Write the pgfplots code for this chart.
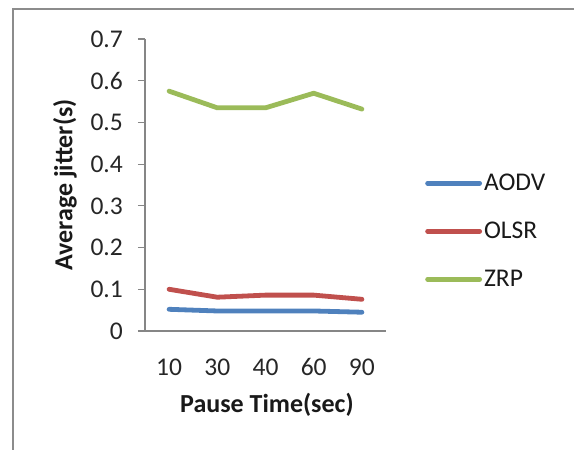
\documentclass[border=0pt]{standalone}
\usepackage{fontspec}
\setmainfont{Carlito}
\usepackage{pgfplots}
\pgfplotsset{compat=1.18}
\definecolor{cA}{HTML}{4F81BD}
\definecolor{cB}{HTML}{C0504D}
\definecolor{cC}{HTML}{9BBB59}
\definecolor{axgray}{HTML}{868686}
\definecolor{bordergray}{HTML}{8C8C8C}
\begin{document}
\begin{tikzpicture}[x=1pt,y=1pt]
\path[use as bounding box] (0,0) rectangle (574,450);
\draw[bordergray, line width=2.5pt] (13,-5) -- (13,441) -- (580,441);
\begin{axis}[
  at={(145pt,119pt)}, anchor=south west,
  scale only axis, width=241pt, height=292pt,
  xmin=-0.5, xmax=4.5, ymin=0, ymax=0.7,
  axis x line=bottom, axis y line=left,
  axis line style={axgray, line width=1.2pt, -},
  every outer x axis line/.append style={-},
  every outer y axis line/.append style={-},
  xtick=data, xticklabels={10,30,40,60,90},
  ytick={0,0.1,0.2,0.3,0.4,0.5,0.6,0.7},
  yticklabels={0,0.1,0.2,0.3,0.4,0.5,0.6,0.7},
  major tick length=7pt, tick align=outside,
  x tick style={draw=none},
  y tick style={axgray, line width=1.2pt},
  tick label style={font=\fontsize{25.5}{30}\selectfont, text=black!85},
  /pgf/number format/assume math mode=true,
  yticklabel style={anchor=east, inner sep=0pt, xshift=-15pt},
  xticklabel style={anchor=center, yshift=-29pt, inner sep=0pt},
  xlabel={\textbf{Pause Time(sec)}},
  ylabel={\textbf{Average jitter(s)}},
  label style={font=\fontsize{26}{30}\selectfont, text=black!90},
  xlabel style={at={(axis description cs:0.506,-0.253)}, anchor=center},
  ylabel style={at={(axis description cs:-0.332,0.5)}, anchor=center},
  legend style={at={(axis description cs:1.162,0.342)}, anchor=west, draw=none, fill=none,
    inner sep=0pt, row sep=26pt, font=\fontsize{25.5}{30}\selectfont,
    nodes={inner sep=2pt, text=black!90}},
  legend cell align=left,
  legend image code/.code={\draw[#1, line cap=round] (0pt,0pt) -- (52pt,0pt);},
  every axis plot/.append style={line width=4.8pt, line cap=round, line join=round},
]
\addplot[cA] coordinates {(0,0.052) (1,0.048) (2,0.048) (3,0.048) (4,0.045)};
\addlegendentry{AODV}
\addplot[cB] coordinates {(0,0.100) (1,0.081) (2,0.086) (3,0.086) (4,0.076)};
\addlegendentry{OLSR}
\addplot[cC] coordinates {(0,0.575) (1,0.535) (2,0.535) (3,0.570) (4,0.532)};
\addlegendentry{ZRP}
\end{axis}
\end{tikzpicture}
\end{document}
